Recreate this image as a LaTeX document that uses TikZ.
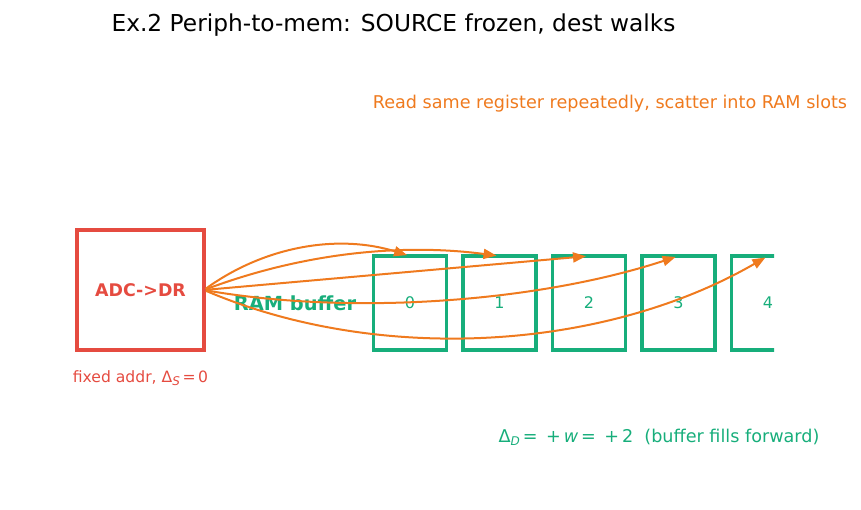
\documentclass[tikz,border=0pt]{standalone}
\usepackage{fontspec}
\setmainfont{DejaVu Sans}
\usetikzlibrary{arrows.meta}
\definecolor{cred}{HTML}{E54B40}
\definecolor{cgreen}{HTML}{17AE7B}
\definecolor{corange}{HTML}{EF7A1E}
\newcommand\lowsub[1]{\raisebox{-0.35ex}{\fontsize{12}{12}\selectfont\itshape #1}}
\begin{document}
\begin{tikzpicture}[x=1pt,y=-1pt,
  srcbox/.style={draw=cred, line width=3.2pt, minimum width=127pt, minimum height=120pt, outer sep=0pt, inner sep=0pt, text=cred, font=\fontsize{17.4}{20}\selectfont\bfseries},
  slot/.style={draw=cgreen, line width=3.2pt, minimum width=73pt, minimum height=94pt, outer sep=0pt, inner sep=0pt},
  slotnum/.style={text=cgreen, font=\fontsize{16}{18}\selectfont},
  flow/.style={draw=corange, line width=2pt, -{Triangle[length=13pt,width=10pt]}, shorten >=3pt, shorten <=2pt},
]
\useasboundingbox (0,0) rectangle (861,510);
\node[font=\fontsize{23.3}{26}\selectfont] (title) at (393.5,25) {Ex.2 Periph-to-mem: SOURCE frozen, dest walks};
\node[text=corange, font=\fontsize{17.6}{20}\selectfont] (note) at (610,104) {Read same register repeatedly, scatter into RAM slots};
\node[srcbox] (adc) at (140.5,290) {ADC->DR};
\node[text=cred, font=\fontsize{15.6}{18}\selectfont] (fix) at (140.5,378) {fixed addr, Δ\lowsub{S}\,=\,0};
\foreach \i/\x in {0/410,1/499.5,2/589,3/678.5}
  \node[slot, slotnum] (b\i) at (\x,303) {\i};
\begin{scope}
  \clip (715,230) rectangle (774,370);
  \node[slot] (b4) at (768,303) {};
\end{scope}
\node[slotnum] (lbl4) at (b4.center) {4};
\node[text=cgreen, font=\fontsize{19.4}{22}\selectfont\bfseries] (ram) at (295,303) {RAM buffer};
\draw[flow] (adc.east) to[bend left=26.57, looseness=0.92] (b0.north);
\draw[flow] (adc.east) to[bend left=14.04, looseness=0.88] (b1.north);
\draw[flow] (adc.east) -- (b2.north);
\draw[flow] (adc.east) to[bend right=14.04, looseness=0.8] (b3.north);
\draw[flow] (adc.east) to[bend right=26.57, looseness=0.86] (b4.north);
\node[text=cgreen, font=\fontsize{17.6}{20}\selectfont] (fwd) at (659,437) {Δ\lowsub{D}\,=\ \,+\,\textit{w}\,=\ \,+\,2\ \ (buffer fills forward)};
\end{tikzpicture}
\end{document}
